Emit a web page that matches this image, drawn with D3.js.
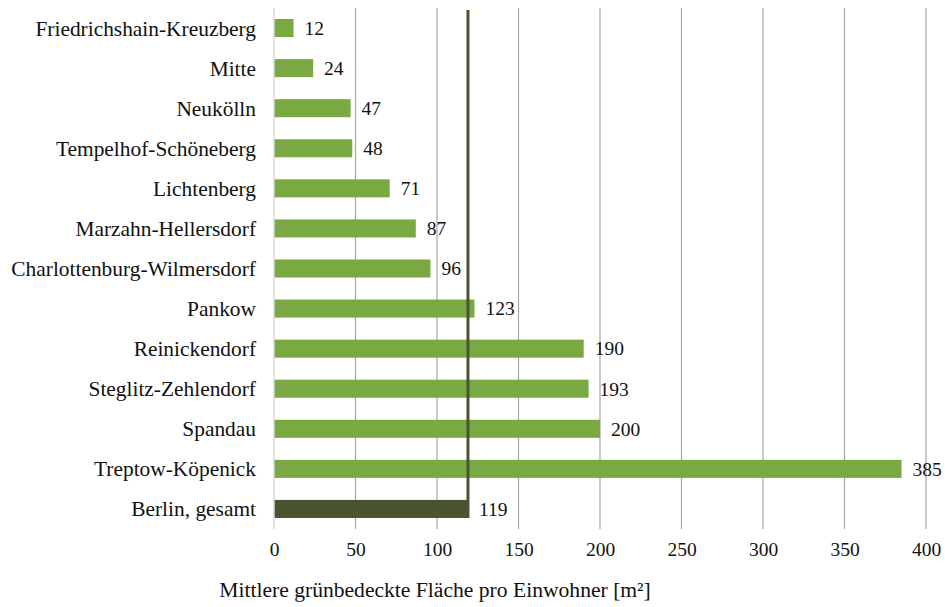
<!DOCTYPE html>
<html>
<head>
<meta charset="utf-8">
<script src="https://cdn.jsdelivr.net/npm/d3@7"></script>
<style>
  body { margin: 0; background: #fff; }
  svg { display: block; }
  svg text { font-family: "Liberation Serif", "Times New Roman", serif; }
</style>
</head>
<body>
<svg width="945" height="607"></svg>
<script>
// Bezirke, top to bottom
var districts = ["Friedrichshain-Kreuzberg", "Mitte", "Neukölln", "Tempelhof-Schöneberg",
  "Lichtenberg", "Marzahn-Hellersdorf", "Charlottenburg-Wilmersdorf", "Pankow",
  "Reinickendorf", "Steglitz-Zehlendorf", "Spandau", "Treptow-Köpenick", "Berlin, gesamt"];
var values = [12, 24, 47, 48, 71, 87, 96, 123, 190, 193, 200, 385, 119];
var tickValues = [0, 50, 100, 150, 200, 250, 300, 350, 400];
var berlinMean = 119;
var axisTitle = "Mittlere grünbedeckte Fläche pro Einwohner [m²]";

var svg = d3.select("svg");
var margin = {top: 8, left: 274, right: 19, bottom: 78};
var width = +svg.attr("width") - margin.left - margin.right,
    height = +svg.attr("height") - margin.top - margin.bottom;

var x = d3.scaleLinear().domain([0, 400]).range([0, width]);
var y = d3.scaleBand().domain(districts).range([0, height]).paddingInner(0.55).paddingOuter(0.275);

var g = svg.append("g").attr("transform", "translate(" + margin.left + "," + margin.top + ")");

// gridlines
g.selectAll("line.grid")
  .data(tickValues.slice(1))
  .enter().append("line")
    .attr("class", "grid")
    .attr("x1", function(d) { return x(d); })
    .attr("x2", function(d) { return x(d); })
    .attr("y1", 0)
    .attr("y2", height)
    .attr("stroke", "#a6a6a6")
    .attr("stroke-width", 1.2);

// bottom axis, labels only
var ax = g.append("g")
    .attr("transform", "translate(0," + height + ")")
    .call(d3.axisBottom(x).tickValues(tickValues).tickSize(0).tickPadding(13));
ax.select(".domain").remove();
ax.attr("font-family", null).attr("font-size", null);
ax.selectAll("text")
    .attr("font-size", 19.5)
    .attr("fill", "#111");

// bars
g.selectAll("rect.bar")
  .data(values)
  .enter().append("rect")
    .attr("class", "bar")
    .attr("x", 0)
    .attr("y", function(d, i) { return y(districts[i]); })
    .attr("width", function(d) { return x(d); })
    .attr("height", y.bandwidth())
    .attr("fill", function(d, i) { return i === districts.length - 1 ? "#4a5530" : "#7aa843"; });

// value labels
g.selectAll("text.val")
  .data(values)
  .enter().append("text")
    .attr("class", "val")
    .attr("x", function(d) { return x(d) + 11; })
    .attr("y", function(d, i) { return y(districts[i]) + y.bandwidth() / 2; })
    .attr("dy", "0.35em")
    .attr("font-size", 19.5)
    .attr("fill", "#111")
    .text(function(d) { return d; });

// category labels
g.selectAll("text.cat")
  .data(districts)
  .enter().append("text")
    .attr("class", "cat")
    .attr("x", -18)
    .attr("y", function(d) { return y(d) + y.bandwidth() / 2; })
    .attr("dy", "0.35em")
    .attr("text-anchor", "end")
    .attr("font-size", 21.4)
    .attr("fill", "#111")
    .text(function(d) { return d; });

// zero axis line
g.append("line")
    .attr("x1", 0).attr("x2", 0)
    .attr("y1", 0).attr("y2", height)
    .attr("stroke", "#d9d9d9")
    .attr("stroke-width", 1.5);

// Berlin mean line
var last = districts[districts.length - 1];
g.append("line")
    .attr("x1", x(berlinMean)).attr("x2", x(berlinMean))
    .attr("y1", 2)
    .attr("y2", y(last) + y.bandwidth())
    .attr("stroke", "#4a5530")
    .attr("stroke-width", 3);

// axis title
svg.append("text")
    .attr("x", 435)
    .attr("y", 597)
    .attr("text-anchor", "middle")
    .attr("font-size", 21.6)
    .attr("fill", "#111")
    .text(axisTitle);
</script>
</body>
</html>
